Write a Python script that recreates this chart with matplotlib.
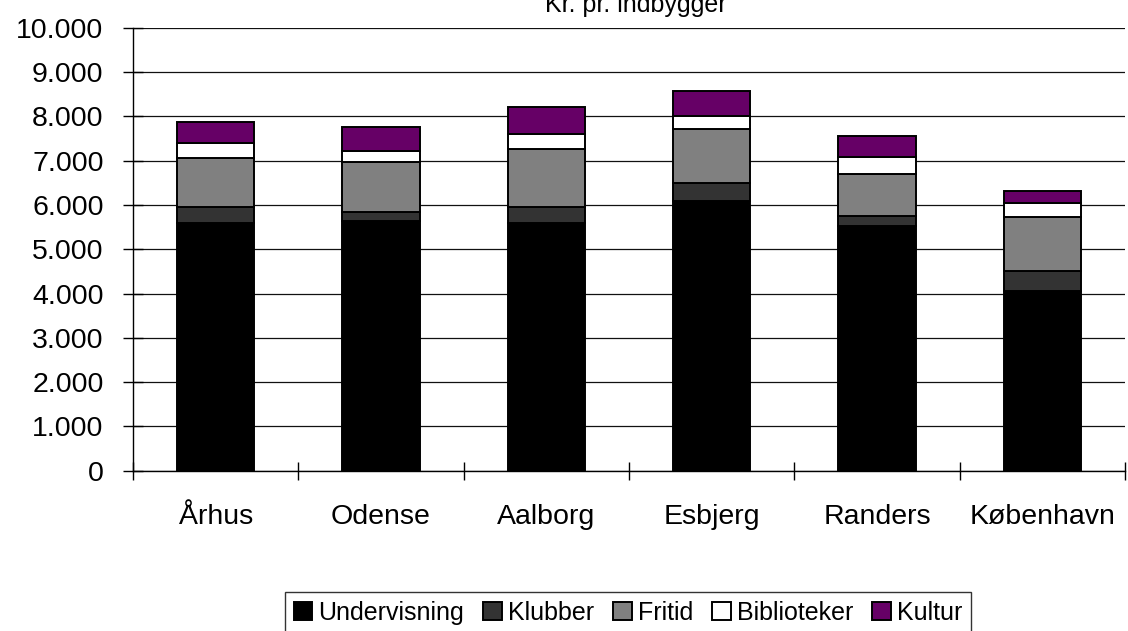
import matplotlib
import numpy as np

matplotlib.use("Agg")
import matplotlib.pyplot as plt  # noqa: E402
from matplotlib.ticker import FuncFormatter, FixedLocator  # noqa: E402

plt.rcParams["font.family"] = ["Liberation Sans", "DejaVu Sans"]

# data (kr. pr. indbygger)
cities = ["Århus", "Odense", "Aalborg", "Esbjerg", "Randers", "København"]
undervisning = [5585, 5635, 5585, 6095, 5530, 4065]
klubber = [360, 195, 360, 390, 220, 450]
fritid = [1105, 1130, 1310, 1235, 955, 1220]
biblioteker = [355, 265, 355, 295, 370, 300]
kultur = [475, 540, 610, 565, 490, 270]

# (label, values, colour)
SERIES = [("Undervisning", undervisning, "#000000"),
          ("Klubber", klubber, "#333333"),
          ("Fritid", fritid, "#808080"),
          ("Biblioteker", biblioteker, "#FFFFFF"),
          ("Kultur", kultur, "#660066")]

fig = plt.figure(figsize=(11.28, 6.31), dpi=100)
ax = fig.add_axes([133 / 1128, 1 - 470.7 / 631, 992 / 1128, (470.7 - 27.7) / 631])

x = np.arange(len(cities))
bottom = np.zeros(len(cities))
for label, vals, c in SERIES:
    ax.bar(x, vals, bottom=bottom, width=0.466, color=c, edgecolor="black",
           linewidth=1.4, label=label, zorder=3)
    bottom += np.asarray(vals, float)

ax.set_xlim(-0.5, len(cities) - 0.5)
ax.set_ylim(0, 10000)
ax.set_yticks(np.arange(0, 10001, 1000))
ax.yaxis.set_major_formatter(FuncFormatter(lambda v, _: f"{int(v):,}".replace(",", ".")))
ax.grid(True, axis="y", color="#111111", lw=0.9, zorder=0)

# category labels centred, tick marks on the boundaries
ax.set_xticks(x)
ax.set_xticklabels(cities)
ax.xaxis.set_minor_locator(FixedLocator(np.arange(-0.5, len(cities), 1.0)))
ax.tick_params(axis="x", which="major", length=0, pad=24, labelsize=20.5)
ax.tick_params(axis="x", which="minor", direction="inout", length=13, width=1.0)
ax.tick_params(axis="y", direction="inout", length=14.4, width=1.0, pad=14, labelsize=20.5)

ax.spines[["top", "right"]].set_visible(False)
for s in ("left", "bottom"):
    ax.spines[s].set_color("black")
    ax.spines[s].set_linewidth(1.0)
    ax.spines[s].set_zorder(4)

fig.text(636 / 1128, 1 - 12 / 631, "Kr. pr. indbygger", ha="center", va="baseline", fontsize=18)

leg = fig.legend(loc="upper center", bbox_to_anchor=(628 / 1128, 1 - 592 / 631), ncol=5,
                 fontsize=18, frameon=True, fancybox=False, handlelength=0.75, handleheight=0.75,
                 handletextpad=0.25, columnspacing=0.75, borderpad=0.35, borderaxespad=0)
leg.get_frame().set_edgecolor("black")
leg.get_frame().set_linewidth(1.0)

fig.savefig("out.png", dpi=100)
